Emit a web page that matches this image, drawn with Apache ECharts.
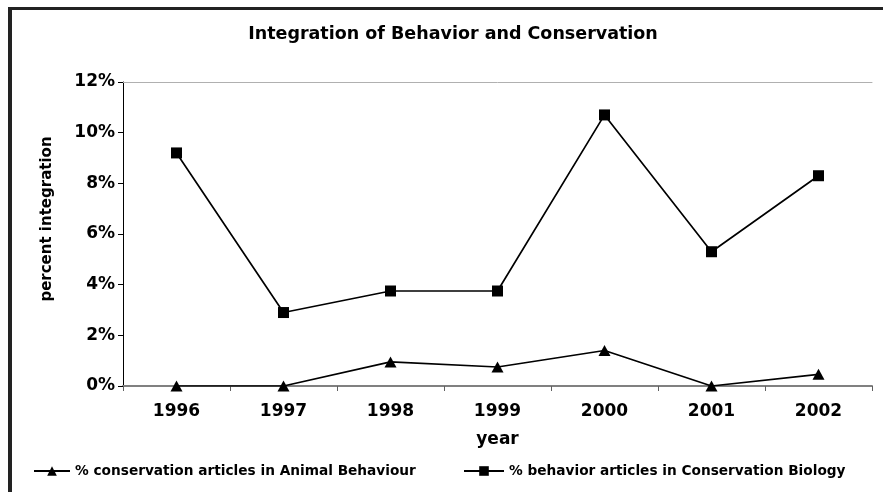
<!DOCTYPE html>
<html>
<head>
<meta charset="utf-8">
<script src="https://cdn.jsdelivr.net/npm/echarts@6/dist/echarts.min.js"></script>
<style>
html,body{margin:0;padding:0;background:#fff;}
#chart{width:883px;height:492px;}
</style>
</head>
<body>
<div id="chart"></div>
<script>
const years = ['1996','1997','1998','1999','2000','2001','2002'];
const animalBehaviour = [0, 0, 0.95, 0.75, 1.4, 0, 0.46];
const conservationBiology = [9.2, 2.9, 3.75, 3.75, 10.7, 5.3, 8.3];
const yTicks = { min: 0, max: 12, interval: 2 };
const seriesNames = ['% conservation articles in Animal Behaviour', '% behavior articles in Conservation Biology'];

const FONT = '"DejaVu Sans", sans-serif';
const chart = echarts.init(document.getElementById('chart'));
chart.setOption({
  animation: false,
  backgroundColor: '#fff',
  title: {
    text: 'Integration of Behavior and Conservation',
    left: 448, top: 20, textAlign: 'center',
    textStyle: { fontFamily: FONT, fontWeight: 'bold', fontSize: 17.5, color: '#000' }
  },
  graphic: [
    { type: 'rect', shape: { x: 8, y: 7, width: 4, height: 485 }, style: { fill: '#222' } },
    { type: 'rect', shape: { x: 8, y: 7, width: 875, height: 3 }, style: { fill: '#222' } }
  ],
  legend: [
    {
      data: [{ name: seriesNames[0] }],
      left: 28, top: 459, itemWidth: 36, itemHeight: 12, itemGap: 4,
      textStyle: { fontFamily: FONT, fontWeight: 'bold', fontSize: 13.7, color: '#000' }
    },
    {
      data: [{ name: seriesNames[1] }],
      left: 458, top: 459, itemWidth: 40, itemHeight: 12, itemGap: 4,
      textStyle: { fontFamily: FONT, fontWeight: 'bold', fontSize: 13.7, color: '#000' }
    }
  ],
  grid: { left: 123, right: 11, top: 82, bottom: 106, containLabel: false },
  xAxis: [
    {
      type: 'category', data: years, boundaryGap: true,
      name: 'year', nameLocation: 'middle', nameGap: 45,
      nameTextStyle: { fontFamily: FONT, fontWeight: 'bold', fontSize: 17, color: '#000' },
      axisLine: { lineStyle: { color: '#808080', width: 2 } },
      axisTick: { show: true, length: 5, lineStyle: { color: '#606060', width: 1 } },
      axisLabel: { fontFamily: FONT, fontWeight: 'bold', fontSize: 17, color: '#000', margin: 17 }
    },
    {
      type: 'category', data: years, position: 'top', boundaryGap: true,
      axisLine: { show: true, lineStyle: { color: '#b0b0b0', width: 1 } },
      axisTick: { show: false }, axisLabel: { show: false }
    }
  ],
  yAxis: {
    type: 'value', min: yTicks.min, max: yTicks.max, interval: yTicks.interval,
    name: 'percent integration', nameLocation: 'middle', nameGap: 68,
    nameTextStyle: { fontFamily: FONT, fontWeight: 'bold', fontSize: 15, color: '#000', padding: [0, 0, 0, 30] },
    axisLine: { show: true, lineStyle: { color: '#000', width: 1 } },
    axisTick: { show: true, length: 5, lineStyle: { color: '#000' } },
    splitLine: { show: false },
    axisLabel: { formatter: '{value}%', fontFamily: FONT, fontWeight: 'bold', fontSize: 17, color: '#000', margin: 8 }
  },
  series: [
    {
      name: seriesNames[0], type: 'line', data: animalBehaviour,
      symbol: 'triangle', symbolSize: [12, 11], showAllSymbol: true,
      lineStyle: { color: '#000', width: 1.7 }, itemStyle: { color: '#000' }, z: 3
    },
    {
      name: seriesNames[1], type: 'line', data: conservationBiology,
      symbol: 'rect', symbolSize: 11, showAllSymbol: true,
      lineStyle: { color: '#000', width: 1.7 }, itemStyle: { color: '#000' }, z: 3
    }
  ]
});
</script>
</body>
</html>
